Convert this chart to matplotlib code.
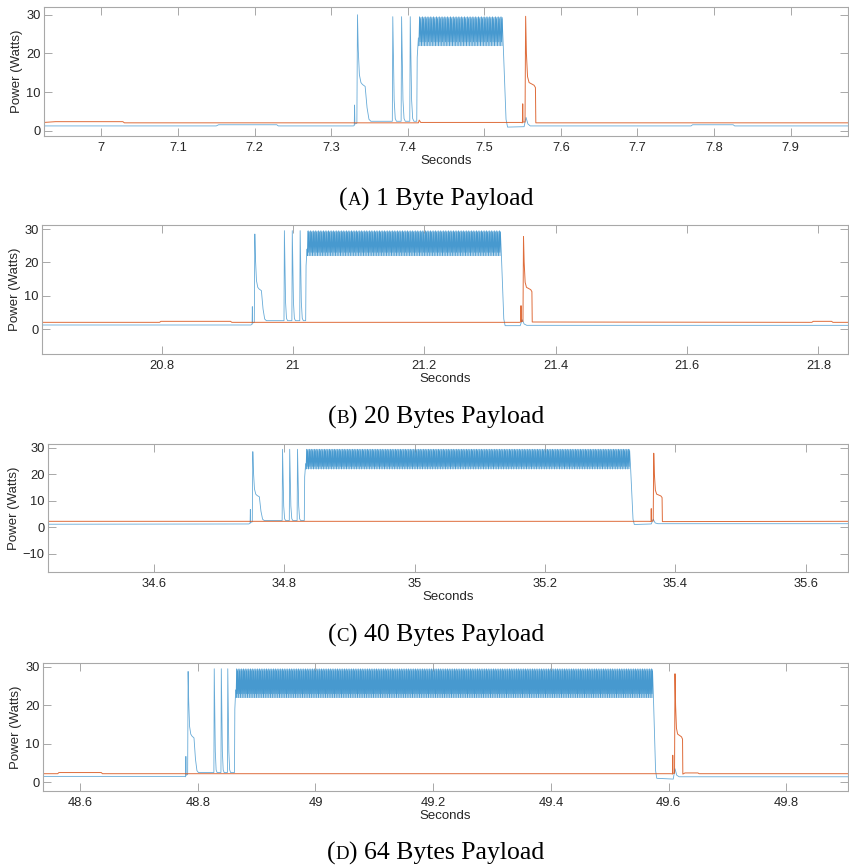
import matplotlib

matplotlib.use("Agg")
import matplotlib.pyplot as plt
import numpy as np
from matplotlib.offsetbox import AnnotationBbox, HPacker, TextArea

# shapes, times relative to the main peak [s], power [W]
BLUE_EVENT_DT = [-0.0042, -0.0038, -0.0034, -0.0008, 0.0, 0.0010, 0.0025, 0.0045, 0.0065, 0.0100, 0.0125, 0.0150, 0.0175]
BLUE_EVENT_P = [1.4, 6.7, 1.8, 2.0, 30.0, 21.0, 14.5, 12.5, 12.0, 11.5, 6.0, 3.0, 2.5]
ORANGE_EVENT_DT = [-0.0042, -0.0038, -0.0034, -0.0008, 0.0, 0.0010, 0.0025, 0.0045, 0.0110, 0.0128, 0.0133]
ORANGE_EVENT_P = [2.1, 7.0, 2.3, 2.3, 30.0, 20.0, 14.0, 12.5, 11.8, 11.2, 2.1]
SPIKE_DT = [-0.0006, 0.0, 0.0007, 0.0018, 0.0032, 0.0048]
SPIKE_P = [2.5, 29.5, 21.0, 8.0, 3.2, 2.5]
# one oscillation of the radio burst: fraction of period, power
CYCLE_FRAC = [0.0, 0.3, 0.5, 0.7]
CYCLE_P = [22.0, 29.5, 23.0, 29.0]
BURST_LOW = 22.0
BURST_HIGH = 29.5

PANEL_LABELS = ["A", "B", "C", "D"]
PANEL_CAPTIONS = ["1 Byte Payload", "20 Bytes Payload", "40 Bytes Payload", "64 Bytes Payload"]
XLIMS = [(6.925, 7.975), (20.618, 21.845), (34.437, 35.665), (48.537, 49.905)]
YLIMS = [(-1.3, 32.0), (-7.5, 31.2), (-17.0, 31.5), (-2.3, 31.0)]
XTICKS = [
    [7.0, 7.1, 7.2, 7.3, 7.4, 7.5, 7.6, 7.7, 7.8, 7.9],
    [20.8, 21.0, 21.2, 21.4, 21.6, 21.8],
    [34.6, 34.8, 35.0, 35.2, 35.4, 35.6],
    [48.6, 48.8, 49.0, 49.2, 49.4, 49.6, 49.8],
]
YTICKS = [[0, 10, 20, 30], [0, 10, 20, 30], [-10, 0, 10, 20, 30], [0, 10, 20, 30]]

# blue trace
BLUE_PRE = [
    [(6.925, 1.3), (7.150, 1.3), (7.153, 1.6), (7.229, 1.6), (7.231, 1.3), (7.329, 1.3)],
    [(20.618, 1.2), (20.936, 1.2)],
    [(34.437, 1.1), (34.745, 1.2)],
    [(48.537, 1.5), (48.778, 1.5)],
]
BLUE_PEAK_T = [7.3344, 20.942, 34.7514, 48.7836]
BLUE_PEAK_P = [30.0, 28.5, 28.6, 28.8]
SPIKE_T = [
    [7.3805, 7.3920, 7.4033],
    [20.987, 20.999, 21.011],
    [34.797, 34.808, 34.820],
    [48.828, 48.840, 48.851],
]
BURST_START = [7.4124, 21.020, 34.831, 48.863]
BURST_END = [7.5244, 21.317, 35.331, 49.574]
BURST_CYCLES = [30, 76, 128, 182]
BLUE_POST = [
    [(7.552, 1.1), (7.5545, 3.5), (7.557, 1.8), (7.560, 1.3), (7.770, 1.3), (7.772, 1.6), (7.825, 1.6), (7.827, 1.3), (7.975, 1.3)],
    [(21.346, 1.0), (21.349, 2.8), (21.352, 1.5), (21.356, 1.1), (21.845, 1.1)],
    [(35.363, 1.2), (35.366, 3.0), (35.369, 1.6), (35.373, 1.3), (35.665, 1.3)],
    [(49.608, 0.8), (49.611, 3.5), (49.614, 1.8), (49.618, 1.4), (49.905, 1.4)],
]

# orange trace
ORANGE_PRE = [
    [(6.925, 2.2), (6.940, 2.4), (7.028, 2.4), (7.030, 2.1), (7.414, 2.1), (7.415, 2.8), (7.417, 2.2), (7.548, 2.2)],
    [(20.618, 2.0), (20.797, 2.0), (20.799, 2.3), (20.905, 2.3), (20.907, 2.0), (21.345, 2.0)],
    [(34.437, 2.2), (35.360, 2.2)],
    [(48.537, 2.2), (48.562, 2.2), (48.564, 2.5), (48.636, 2.5), (48.638, 2.2), (49.605, 2.2)],
]
ORANGE_PEAK_T = [7.554, 21.351, 35.3668, 49.611]
ORANGE_PEAK_P = [29.6, 27.7, 28.0, 28.2]
ORANGE_POST = [
    [(7.975, 2.1)],
    [(21.790, 2.0), (21.792, 2.3), (21.820, 2.3), (21.822, 2.0), (21.845, 2.0)],
    [(35.665, 2.2)],
    [(49.628, 2.4), (49.650, 2.4), (49.652, 2.2), (49.905, 2.2)],
]

BLUE = "#0072BD"
ORANGE = "#D95319"
AXIS_GRAY = "#a8a8a8"
TEXT_GRAY = "#262626"
SERIF = ["Liberation Serif", "DejaVu Serif"]
SANS = ["Liberation Sans", "DejaVu Sans"]

# axes boxes in pixels: left, top, right, bottom
AXES_PX = [(44, 7, 848, 136), (42, 225, 848, 354), (48, 444, 848, 572), (43, 663, 848, 791)]
CAPTION_Y_PX = [199, 417, 635, 853]
FIG_W, FIG_H = 849, 868


def shape(t0, peak, dts, ps):
    pts = [(t0 + dt, p) for dt, p in zip(dts, ps)]
    i = int(np.argmax(ps))
    pts[i] = (pts[i][0], peak)
    return pts


def burst(start, end, cycles):
    pts = [(start - 0.0006, 2.5), (start, 19.0), (start + 0.0015, 24.0)]
    edges = np.linspace(start + 0.002, end, cycles + 1)
    for a, b in zip(edges[:-1], edges[1:]):
        for f, p in zip(CYCLE_FRAC, CYCLE_P):
            pts.append((a + f * (b - a), p))
    pts += [(end, 24.0), (end + 0.004, 3.0), (end + 0.006, 1.0)]
    return pts


def blue_trace(k):
    pts = list(BLUE_PRE[k])
    pts += shape(BLUE_PEAK_T[k], BLUE_PEAK_P[k], BLUE_EVENT_DT, BLUE_EVENT_P)
    for t in SPIKE_T[k]:
        pts += shape(t, 29.5, SPIKE_DT, SPIKE_P)
    pts += burst(BURST_START[k], BURST_END[k], BURST_CYCLES[k])
    pts += BLUE_POST[k]
    return np.array(pts)


def orange_trace(k):
    pts = list(ORANGE_PRE[k])
    pts += shape(ORANGE_PEAK_T[k], ORANGE_PEAK_P[k], ORANGE_EVENT_DT, ORANGE_EVENT_P)
    pts += ORANGE_POST[k]
    return np.array(pts)


def caption(fig, label, text, y_px):
    props_big = dict(fontsize=18.5, family=SERIF, color="black")
    props_small = dict(fontsize=13.5, family=SERIF, color="black")
    box = HPacker(
        children=[
            TextArea("(", textprops=props_big),
            TextArea(label, textprops=props_small),
            TextArea(") " + text, textprops=props_big),
        ],
        align="baseline",
        pad=0,
        sep=0,
    )
    ab = AnnotationBbox(box, (436 / FIG_W, 1 - y_px / FIG_H), xycoords="figure fraction",
                        frameon=False, box_alignment=(0.5, 0.5), pad=0)
    fig.add_artist(ab)


def main():
    fig = plt.figure(figsize=(FIG_W / 100, FIG_H / 100), dpi=100)
    for k in range(4):
        l, t, r, b = AXES_PX[k]
        ax = fig.add_axes([l / FIG_W, 1 - b / FIG_H, (r - l) / FIG_W, (b - t) / FIG_H])
        bl = blue_trace(k)
        org = orange_trace(k)
        ax.fill_between([BURST_START[k] + 0.002, BURST_END[k]], BURST_LOW, BURST_HIGH,
                        color=BLUE, alpha=0.3, linewidth=0)
        ax.plot(bl[:, 0], bl[:, 1], color=BLUE, linewidth=0.6, alpha=0.6)
        ax.plot(org[:, 0], org[:, 1], color=ORANGE, linewidth=0.7, alpha=0.85)
        ax.set_xlim(XLIMS[k])
        ax.set_ylim(YLIMS[k])
        ax.set_xticks(XTICKS[k])
        ax.set_xticklabels([f"{v:g}" for v in XTICKS[k]])
        ax.set_yticks(YTICKS[k])
        ax.tick_params(direction="in", length=5.5, width=0.7, color=AXIS_GRAY, labelcolor=TEXT_GRAY,
                       labelsize=9.3, top=True, right=True, pad=4)
        ax.tick_params(axis="y", pad=2.5)
        for lab in ax.get_xticklabels() + ax.get_yticklabels():
            lab.set_family(SANS)
        for sp in ax.spines.values():
            sp.set_color(AXIS_GRAY)
            sp.set_linewidth(0.8)
        ax.set_xlabel("Seconds", fontsize=9.5, family=SANS, color=TEXT_GRAY, labelpad=1)
        ax.set_ylabel("Power (Watts)", fontsize=9.5, family=SANS, color=TEXT_GRAY, labelpad=2)
        caption(fig, PANEL_LABELS[k], PANEL_CAPTIONS[k], CAPTION_Y_PX[k])
    fig.savefig("out.png", dpi=100)
    plt.close(fig)


if __name__ == "__main__":
    main()
